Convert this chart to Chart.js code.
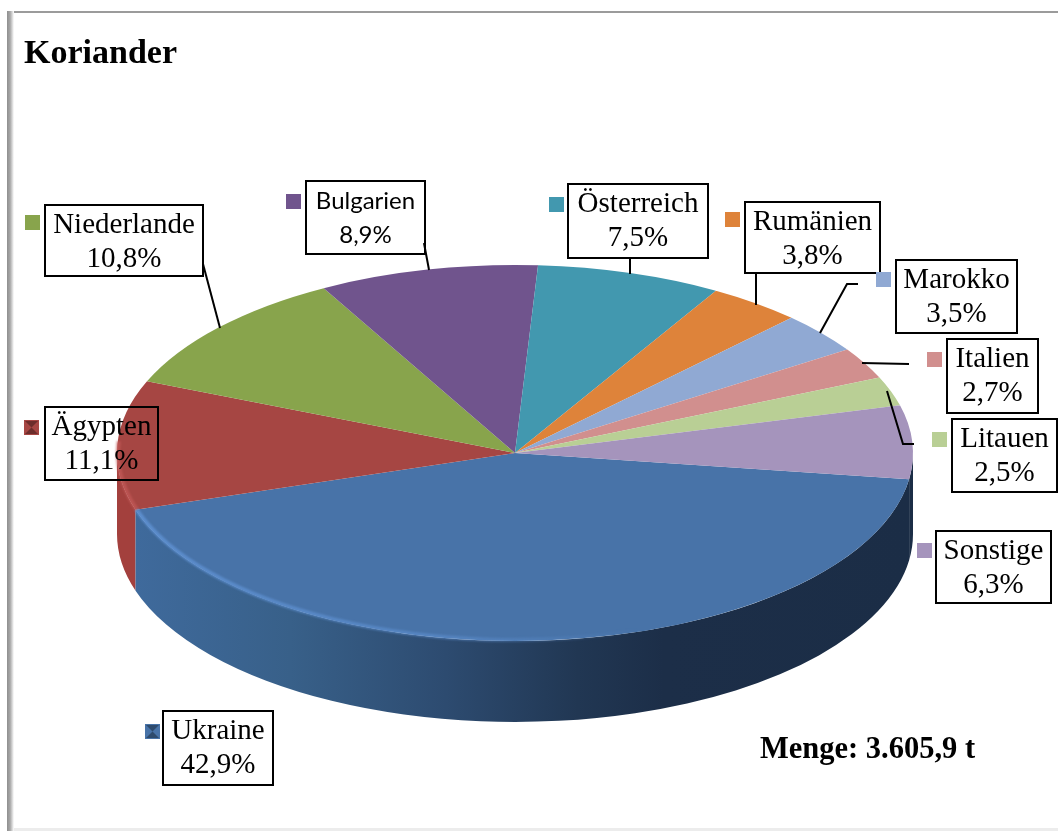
<!DOCTYPE html>
<html><head><meta charset="utf-8">
<style>html,body{margin:0;padding:0;background:#fff;overflow:hidden}canvas{display:block}</style>
<script src="https://cdn.jsdelivr.net/npm/chart.js@4/dist/chart.umd.min.js"></script>
</head><body><canvas id="c" width="1058" height="831"></canvas>
<script>
const categories=["Ukraine","Ägypten","Niederlande","Bulgarien","Österreich","Rumänien","Marokko","Italien","Litauen","Sonstige"];
const shares=[42.9,11.1,10.8,8.9,7.5,3.8,3.5,2.7,2.5,6.3];
const topColors=["#4873a8","#a64643","#88a44c","#70548d","#4298af","#de833a","#90a9d3","#d18f8e","#b9cf95","#a594bc"];
const chartTitle="Koriander";
const note="Menge: 3.605,9 t";

const geom={cx:515,cy:453,rx:398,ry:188,depth:81};
// label box: x,y,w,h ; swatch x,y ; leader polyline
const labelBoxes=[
 {b:[163,711,110,74],s:[145,724],bevel:1},
 {b:[45,407,113,73],s:[24,420],bevel:1},
 {b:[45,205,158,71],s:[25,215],l:[[203,264],[220,328]]},
 {b:[306,181,119,73],s:[286,194],font:'24px Lato',l:[[424,243],[429,270]]},
 {b:[568,184,140,74],s:[549,197],l:[[630,258],[630,274]]},
 {b:[745,202,135,71],s:[725,212],l:[[756,273],[756,305]]},
 {b:[896,260,121,73],s:[876,272],l:[[858,284],[847,284],[820,333]]},
 {b:[947,339,91,74],s:[927,352],l:[[909,364],[862,363]]},
 {b:[952,419,105,73],s:[932,432],l:[[914,444],[903,444],[887,391]]},
 {b:[936,531,115,72],s:[917,543]}
];
const serif='"Liberation Serif",serif';
const labelFont='29px '+serif;

function wallFill(ctx,i){
  if(i===0){
    const g=ctx.createLinearGradient(135,0,912,0);
    g.addColorStop(0,'#3f6a9c');g.addColorStop(.2,'#386089');g.addColorStop(.4,'#2d4b70');
    g.addColorStop(.57,'#213753');g.addColorStop(.68,'#1c2e48');g.addColorStop(1,'#1b2d46');
    return g;
  }
  if(i===1) return '#a3403d';
  return '#1b2d46';
}

const pie3d={
 id:'pie3d',
 beforeDraw(chart){
  const ctx=chart.ctx;
  ctx.save();
  ctx.fillStyle='#9b9b9b';ctx.fillRect(7,11,1051,2);
  const g=ctx.createLinearGradient(7,0,14,0);
  g.addColorStop(0,'#8f8f8f');g.addColorStop(.45,'#a8a8a8');g.addColorStop(1,'#ffffff');
  ctx.fillStyle=g;ctx.fillRect(7,11,7,820);
  ctx.fillStyle='#ececec';ctx.fillRect(14,828,1044,3);
  ctx.restore();
 },
 beforeDatasetsDraw(chart){
  const ctx=chart.ctx,{cx,cy,rx,ry,depth}=geom;
  const arcs=chart.getDatasetMeta(0).data;
  ctx.save();
  [1,9,0].forEach(i=>{
    const a=arcs[i];
    for(let k=0;k<2;k++){
      const base=2*Math.PI*k,lo=Math.max(a.startAngle,base),hi=Math.min(a.endAngle,base+Math.PI);
      if(hi<=lo) continue;
      ctx.beginPath();
      ctx.ellipse(cx,cy,rx,ry,0,lo,hi);
      ctx.ellipse(cx,cy+depth,rx,ry,0,hi,lo,true);
      ctx.closePath();
      ctx.fillStyle=wallFill(ctx,i);ctx.fill();
    }
  });
  ctx.restore();
  const p=arcs[0];
  ctx.save();
  ctx.translate(cx,cy);
  ctx.scale(rx/p.outerRadius,ry/p.outerRadius);
  ctx.translate(-p.x,-p.y);
 },
 afterDatasetsDraw(chart){
  const ctx=chart.ctx,{cx,cy,rx,ry}=geom;
  ctx.restore();
  const arcs=chart.getDatasetMeta(0).data;
  // rim highlights
  ctx.save();
  ctx.filter='blur(1px)';
  const g=ctx.createLinearGradient(135,0,640,0);
  g.addColorStop(0,'rgba(95,145,210,.9)');g.addColorStop(.6,'rgba(95,145,210,.6)');g.addColorStop(1,'rgba(95,145,210,0)');
  ctx.strokeStyle=g;ctx.lineWidth=4;
  ctx.beginPath();ctx.ellipse(cx,cy,rx-1,ry-1,0,Math.PI*.4,arcs[0].endAngle);ctx.stroke();
  ctx.strokeStyle='rgba(195,90,88,.75)';
  ctx.beginPath();ctx.ellipse(cx,cy,rx-1,ry-1,0,arcs[1].startAngle,Math.PI*1.02);ctx.stroke();
  ctx.restore();
  // labels
  ctx.save();
  labelBoxes.forEach((c,i)=>{
    const [x,y,w,h]=c.b;
    ctx.strokeStyle='#000';ctx.lineWidth=2;
    ctx.strokeRect(x,y,w,h);
    if(c.l){
      ctx.beginPath();c.l.forEach((pt,j)=>j?ctx.lineTo(pt[0],pt[1]):ctx.moveTo(pt[0],pt[1]));ctx.stroke();
    }
    const [sx,sy]=c.s;
    ctx.fillStyle=topColors[i];ctx.fillRect(sx,sy,15,15);
    if(c.bevel){
      ctx.fillStyle='rgba(0,0,0,.35)';
      ctx.beginPath();ctx.moveTo(sx+1,sy+1);ctx.lineTo(sx+7.5,sy+7.5);ctx.lineTo(sx+14,sy+1);ctx.closePath();ctx.fill();
      ctx.beginPath();ctx.moveTo(sx+1,sy+14);ctx.lineTo(sx+7.5,sy+7.5);ctx.lineTo(sx+14,sy+14);ctx.closePath();ctx.fill();
    }
    ctx.fillStyle='#000';ctx.textAlign='center';ctx.textBaseline='alphabetic';
    ctx.font=c.font||labelFont;
    ctx.fillText(categories[i],x+w/2,y+28);
    ctx.fillText(shares[i].toFixed(1).replace('.',',')+'%',x+w/2,y+62);
  });
  ctx.fillStyle='#000';ctx.textAlign='left';ctx.font='bold 30.5px '+serif;
  ctx.fillText(note,760,758);
  ctx.restore();
 }
};

new Chart(document.getElementById('c').getContext('2d'),{
 type:'pie',
 data:{labels:categories,datasets:[{data:shares,backgroundColor:topColors,borderWidth:0,clip:false}]},
 options:{
  responsive:false,animation:false,rotation:98,
  events:[],
  layout:{padding:{left:24,top:0,right:0,bottom:0}},
  plugins:{
   legend:{display:false},tooltip:{enabled:false},
   title:{display:true,text:chartTitle,align:'start',color:'#000',
     font:{family:serif,size:34,weight:'bold'},padding:{top:34,bottom:10}}
  }
 },
 plugins:[pie3d]
});
</script></body></html>
